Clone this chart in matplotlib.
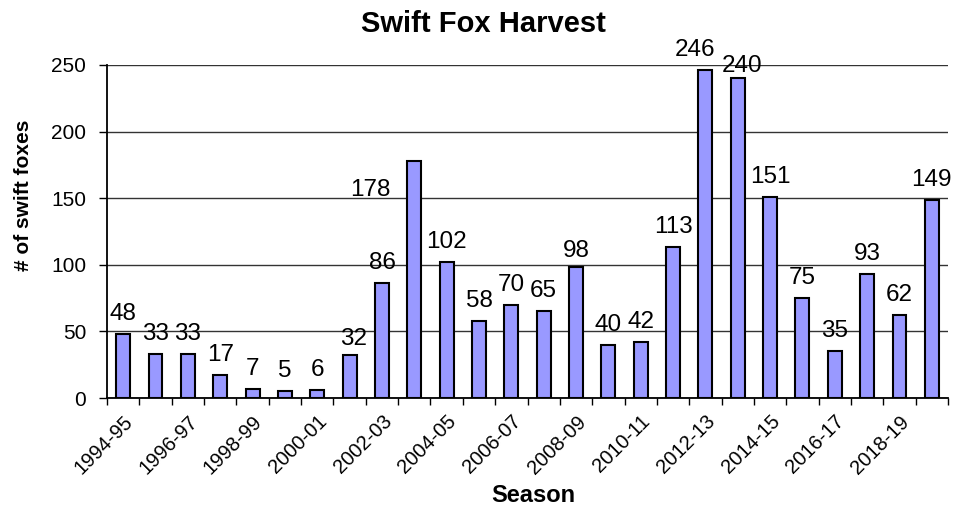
import numpy as np
import matplotlib.pyplot as plt

plt.rcParams['font.family'] = ['Liberation Sans', 'DejaVu Sans']

seasons = ['1994-95', '1995-96', '1996-97', '1997-98', '1998-99', '1999-00',
           '2000-01', '2001-02', '2002-03', '2003-04', '2004-05', '2005-06',
           '2006-07', '2007-08', '2008-09', '2009-10', '2010-11', '2011-12',
           '2012-13', '2013-14', '2014-15', '2015-16', '2016-17', '2017-18',
           '2018-19', '2019-20']
harvest = [48, 33, 33, 17, 7, 5, 6, 32, 86, 178, 102, 58, 70, 65, 98,
           40, 42, 113, 246, 240, 151, 75, 35, 93, 62, 149]

# label nudges (pixels) where the original labels sit off-centre
nudge = {7: (4, 10), 9: (-44, -35), 14: (0, 10), 18: (-10, 14), 19: (4, 6)}

x = np.arange(len(seasons))

fig = plt.figure(figsize=(9.56, 5.08), dpi=100)
ax = fig.add_axes([107/956, 1-398/508, (948-107)/956, (398-65)/508])

bars = ax.bar(x, harvest, width=0.43, color='#9999FF', edgecolor='black',
              linewidth=1.5, zorder=3)

for i, rect in enumerate(bars):
    h = rect.get_height()
    dx, dy = nudge.get(i, (0, 14))
    ax.annotate('{}'.format(h),
                xy=(rect.get_x() + rect.get_width() / 2, h),
                xytext=(dx, dy), textcoords='offset pixels',
                ha='center', va='baseline', fontsize=17.5, zorder=4)

ax.set_xlim(-0.5, len(seasons) - 0.5)
ax.set_ylim(0, 250)
ax.set_yticks(np.arange(0, 251, 50))
ax.yaxis.grid(True, color='#333333', linewidth=1.0, zorder=0)
ax.tick_params(axis='y', length=6, width=1, pad=9, labelsize=15)

# category labels on every other season, ticks at the category boundaries
ax.set_xticks(x[::2], labels=[seasons[i] for i in x[::2]], rotation=45,
              ha='right', va='top', rotation_mode='anchor', fontsize=14.5)
ax.set_xticks(np.arange(-0.5, len(seasons)), minor=True)
ax.tick_params(axis='x', which='major', length=0, pad=10)
ax.tick_params(axis='x', which='minor', length=5, width=1)

for s in ['top', 'right']:
    ax.spines[s].set_visible(False)
ax.spines['left'].set_linewidth(1.3)
ax.spines['bottom'].set_linewidth(1.3)

fig.text(24/956, 1-195/508, '# of swift foxes', rotation=90, fontsize=15,
         fontweight='bold', ha='center', va='center')
fig.text(533/956, 1-495/508, 'Season', fontsize=17, fontweight='bold',
         ha='center', va='center')
fig.text(483/956, 1-24/508, 'Swift Fox Harvest', fontsize=21,
         fontweight='bold', ha='center', va='center')

plt.savefig('out.png', dpi=100)
